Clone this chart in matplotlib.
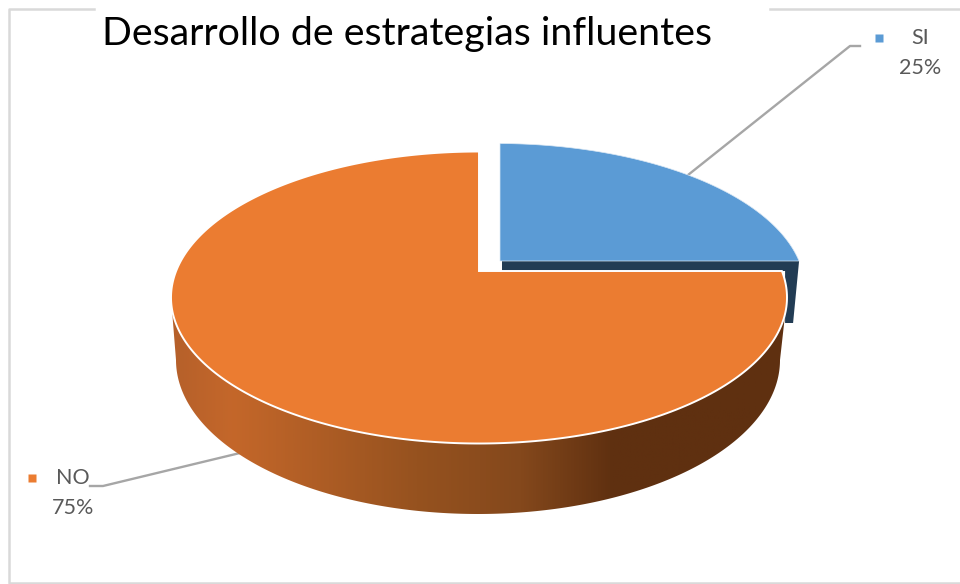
#!/usr/bin/env python3

import matplotlib
matplotlib.use("Agg")
import matplotlib.pyplot as plt
import numpy as np
from matplotlib.colors import LinearSegmentedColormap
from matplotlib.patches import Polygon

title = "Desarrollo de estrategias influentes"
labels = ["SI", "NO"]
shares = [25, 75]

SLICE_COLORS = ["#5B9BD5", "#EB7C31"]
SI_WALL = "#223C54"
TEXT_GRAY = "#595959"
LEADER_GRAY = "#A6A6A6"
FRAME_GRAY = "#D9D9D9"
WALL_STOPS = [(0.0, "#B5602A"), (0.10, "#C4672A"), (0.40, "#96521F"),
              (0.57, "#84481C"), (0.72, "#5F3010"), (1.0, "#5F3010")]

# ellipse of the disc top and the point the slices meet at
CX, CY, RX, RY = 479, 297.5, 308, 146
APEX = (479, 271)
# the pulled out SI slice
SI_SHIFT = (18, -8)
SI_APEX = (500, 261)
# lower rim of the disc
LOW_CX, LOW_CY, LOW_RX, LOW_RY = 478, 360, 302, 154
SI_DEPTH = 62


def ray_hit(apex, center, deg):
    # where a ray from the apex leaves the ellipse
    dx, dy = np.cos(np.radians(deg)), -np.sin(np.radians(deg))
    px, py = apex[0] - center[0], apex[1] - center[1]
    a = (dx / RX) ** 2 + (dy / RY) ** 2
    b = 2 * (px * dx / RX ** 2 + py * dy / RY ** 2)
    c = (px / RX) ** 2 + (py / RY) ** 2 - 1
    t = (-b + np.sqrt(b * b - 4 * a * c)) / (2 * a)
    return apex[0] + t * dx, apex[1] + t * dy


def wedge(apex, center, start, end):
    # polygon for a slice, going clockwise from start to end
    x0, y0 = ray_hit(apex, center, start)
    x1, y1 = ray_hit(apex, center, end)
    t0 = np.arctan2(-(y0 - center[1]) / RY, (x0 - center[0]) / RX)
    t1 = np.arctan2(-(y1 - center[1]) / RY, (x1 - center[0]) / RX)
    while t1 > t0:
        t1 -= 2 * np.pi
    t = np.linspace(t0, t1, 300)
    arc = np.column_stack([center[0] + RX * np.cos(t), center[1] - RY * np.sin(t)])
    return np.vstack([apex, arc])


def draw_wall(ax):
    t = np.linspace(0, np.pi, 300)
    top = np.column_stack([CX + RX * np.cos(t), CY + RY * np.sin(t)])
    low = np.column_stack([LOW_CX + LOW_RX * np.cos(t[::-1]),
                           LOW_CY + LOW_RY * np.sin(t[::-1])])
    shape = Polygon(np.vstack([top, low]), closed=True, fc="none", ec="none")
    ax.add_patch(shape)
    cmap = LinearSegmentedColormap.from_list("wall", WALL_STOPS)
    grad = np.linspace(0, 1, 512).reshape(1, -1)
    img = ax.imshow(grad, cmap=cmap, aspect="auto", zorder=2,
                    extent=(LOW_CX - LOW_RX - 6, LOW_CX + LOW_RX + 6, 530, 290))
    img.set_clip_path(shape)


def main():
    fig = plt.figure(figsize=(9.6, 5.84), dpi=100)
    ax = fig.add_axes([0, 0, 1, 1])

    # chart frame, broken where the title sits
    for xs, ys in [((94, 9, 9, 960), (9, 9, 583, 583)), ((770, 960), (9, 9))]:
        ax.plot(xs, ys, color=FRAME_GRAY, lw=1.8, zorder=1)

    # leader lines run behind the pie
    ax.plot([860, 850, 688], [46, 46, 175], color=LEADER_GRAY, lw=1.7, zorder=1)
    ax.plot([90, 103, 240], [486, 486, 453], color=LEADER_GRAY, lw=1.7, zorder=1)

    draw_wall(ax)

    # clockwise from twelve o'clock
    si_end = 90 - 360 * shares[0] / sum(shares)
    si_center = (CX + SI_SHIFT[0], CY + SI_SHIFT[1])
    si = wedge(SI_APEX, si_center, 90, si_end)
    no = wedge(APEX, (CX, CY), si_end, si_end - 360 * shares[1] / sum(shares))

    # cut face of the SI slice, mostly hidden by the NO slice
    right = si[-1]
    side = [(SI_APEX[0] + 2, SI_APEX[1]), tuple(right),
            (right[0] - 6, right[1] + SI_DEPTH), (right[0] - 14, right[1] + SI_DEPTH),
            (right[0] - 14, right[1] + 10), (SI_APEX[0] + 2, right[1] + 10)]
    ax.add_patch(Polygon(side, closed=True, fc=SI_WALL, ec="none", zorder=3))

    ax.add_patch(Polygon(si, closed=True, fc=SLICE_COLORS[0], ec="#DCE9F5", lw=0.5, zorder=4))
    ax.add_patch(Polygon(no, closed=True, fc=SLICE_COLORS[1], ec="white", lw=1.4, zorder=4))

    ax.text(406.5, 34, title, ha="center", va="center", fontsize=28.4,
            family="Lato", color="black")

    # data labels with their legend keys
    for i, (name, val, key, tx) in enumerate(zip(labels, shares, [(879, 38), (32, 478)], [920, 73])):
        y = key[1]
        ax.plot([key[0]], [y], marker="s", ms=5.5, color=SLICE_COLORS[i], mec="none")
        ax.text(tx, y, name, ha="center", va="center", fontsize=15.5, family="Lato", color=TEXT_GRAY)
        ax.text(tx, y + 30, "{}%".format(val), ha="center", va="center", fontsize=15.5,
                family="Lato", color=TEXT_GRAY)

    ax.set_xlim(0, 960)
    ax.set_ylim(584, 0)
    ax.axis("off")
    fig.savefig("out.png", dpi=100, facecolor="white")


if __name__ == "__main__":
    main()
